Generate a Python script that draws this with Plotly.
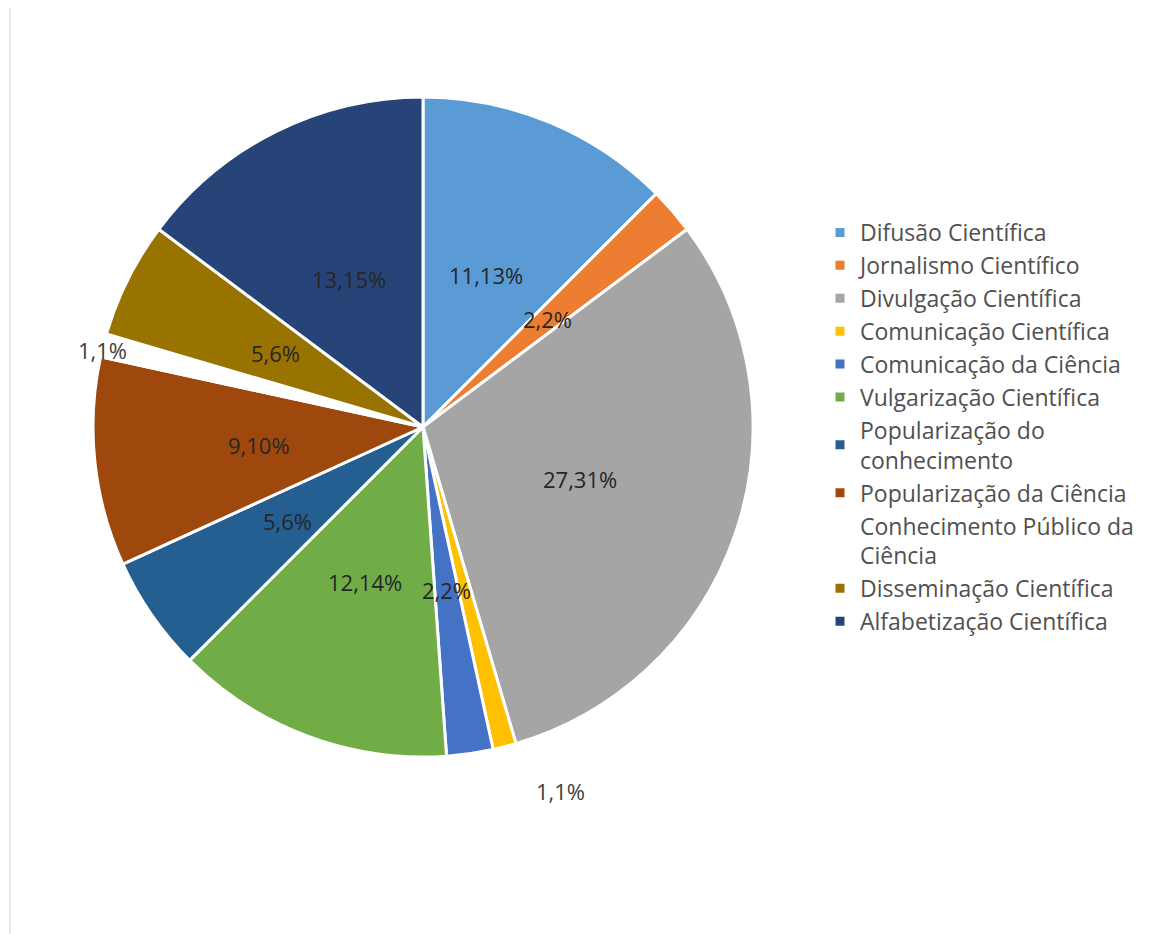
import math
import plotly.graph_objects as go

categories = [
    "Difusão Científica",
    "Jornalismo Científico",
    "Divulgação Científica",
    "Comunicação Científica",
    "Comunicação da Ciência",
    "Vulgarização Científica",
    "Popularização do<br>conhecimento",
    "Popularização da Ciência",
    "Conhecimento Público da<br>Ciência",
    "Disseminação Científica",
    "Alfabetização Científica",
]
counts = [11, 2, 27, 1, 2, 12, 5, 9, 1, 5, 13]
percent_labels = [13, 2, 31, 1, 2, 14, 6, 10, 1, 6, 15]

colors = ["#5B9BD5", "#ED7D31", "#A5A5A5", "#FFC000", "#4472C4", "#70AD47",
          "#255E91", "#9E480E", "#FFFFFF", "#997300", "#264478"]

W, H = 1150, 934
CX_PX, CY_PX, R_PX = 423, 427, 330

dom_x = [(CX_PX - R_PX) / W, (CX_PX + R_PX) / W]
dom_y = [(H - CY_PX - R_PX) / H, (H - CY_PX + R_PX) / H]

fig = go.Figure(go.Pie(
    labels=categories,
    values=counts,
    sort=False,
    direction="clockwise",
    rotation=0,
    marker=dict(colors=colors, line=dict(color="white", width=3)),
    textinfo="none",
    hoverinfo="label+value+percent",
    domain=dict(x=dom_x, y=dom_y),
))

# data labels placed at the slice mid-angles (derived from the values)
label_style = {3: (1.18, -6.4), 8: (1.0, -0.8)}  # index: (radius factor, angle shift deg)
total = sum(counts)
cum = 0
annotations = []
for i, (c, p) in enumerate(zip(counts, percent_labels)):
    mid = (cum + c / 2) / total * 360
    cum += c
    rf, shift = label_style.get(i, (0.5, 0.0))
    a = math.radians(mid + shift)
    px = CX_PX + rf * R_PX * math.sin(a)
    py = CY_PX - rf * R_PX * math.cos(a)
    annotations.append(dict(
        x=px / W, y=1 - py / H, xref="paper", yref="paper",
        text=f"{c},{p}%", showarrow=False,
        font=dict(family="Open Sans, sans-serif", size=22,
                  color="#404040" if rf >= 1 else "#262626"),
        xanchor="center", yanchor="middle",
    ))

fig.update_layout(
    width=W, height=H,
    margin=dict(l=0, r=0, t=0, b=0),
    paper_bgcolor="white",
    plot_bgcolor="white",
    annotations=annotations,
    showlegend=True,
    legend=dict(
        x=820 / W, y=1 - 211 / H, xanchor="left", yanchor="top",
        font=dict(family="Open Sans, sans-serif", size=23, color="#505050"),
        bgcolor="rgba(0,0,0,0)",
        traceorder="normal",
    ),
    shapes=[dict(type="line", xref="paper", yref="paper",
                 x0=10 / W, x1=10 / W, y0=0, y1=1 - 8 / H,
                 line=dict(color="#E6E6E6", width=2))],
)

fig.write_html("out.html",
               config={"displayModeBar": False},
               post_script="document.body.style.margin='0';document.body.style.overflow='hidden';")
